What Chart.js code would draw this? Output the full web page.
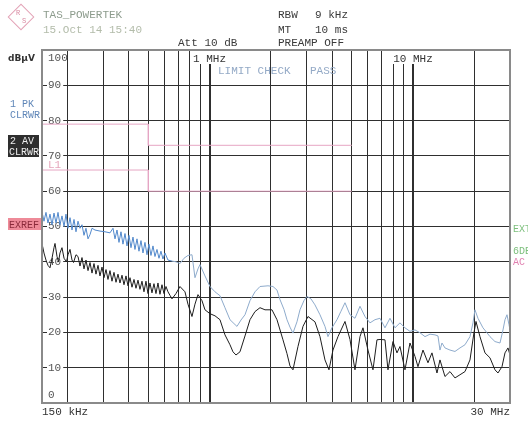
<!DOCTYPE html>
<html>
<head>
<meta charset="utf-8">
<script src="https://cdn.jsdelivr.net/npm/chart.js@4.4.1/dist/chart.umd.min.js"></script>
<style>
  html, body { margin: 0; padding: 0; background: #fff; }
  #wrap { width: 528px; height: 422px; }
</style>
</head>
<body>
<div id="wrap"><canvas id="emiChart" width="528" height="422"></canvas></div>
<script>
// Frequencies in kHz, levels in dBuV
const freqPk = [151, 153.4, 156.9, 160.5, 164.2, 168, 171.8, 175.8, 179.8, 183.9, 188.1, 192.5, 196.8, 201.3, 206, 210.7, 215.5, 220.4, 225.5, 230.6,
  235.9, 241.3, 246.8, 252.5, 258.3, 264.2, 273.3, 289.2, 306.1, 323.9, 335.1, 342.8, 350.6, 358.6, 366.8, 375.2, 383.8, 392.6, 401.6, 410.8,
  420.2, 429.8, 439.7, 449.7, 460, 470.5, 481.3, 492.3, 503.6, 515.1, 526.9, 539, 551.3, 563.9, 576.8, 590, 603.5, 624.4, 653.3, 683.6,
  715.2, 748.4, 783.1, 819.4, 847.7, 876.9, 897, 949.3, 1004.6, 1063, 1125, 1190.6, 1259.9, 1318.3, 1363.8, 1427, 1493.2, 1580.2, 1672.3, 1769.7,
  1937.3, 2050, 2144.9, 2218.9, 2321.7, 2402, 2484.9, 2570.7, 2689.8, 2782.7, 2911.5, 3012.2, 3151.7, 3297.6, 3489.8, 3693.3, 3820.8, 3997.8, 4230.6, 4426.8,
  4632.2, 4901.9, 5187.3, 5489.6, 5808.9, 6147, 6504.8, 6883.8, 7285, 7709, 8157.8, 8632.4, 9135.6, 9668.4, 10232, 10828, 11459, 12126, 12831, 13275,
  13579, 13890, 14370, 15206, 16091, 17028, 18020, 19069, 19727, 20178, 20875, 22091, 23117, 23915, 25307, 26786, 27712, 28347, 28998, 29662, 30000];
const pkLevel = [53.4, 51.5, 54, 51, 53.5, 50.5, 53.8, 51, 54, 50.5, 53, 50, 53.5, 49.5, 52.5, 49, 52, 48.5, 51.5, 49.5,
  50.5, 47.5, 49.5, 46.5, 47.7, 49.5, 49, 48.7, 48.5, 48.2, 49.5, 46.5, 49, 45.5, 48.5, 45, 48, 44.5, 47.5, 44,
  47, 43.5, 46.5, 43, 46, 42.5, 45.5, 42, 45, 41.8, 44.5, 41.5, 43.5, 41, 43, 40.8, 42.5, 40.5, 40.2, 40,
  39.5, 41, 41.8, 42, 35.5, 38, 39.2, 36, 33, 31.5, 30.4, 27, 23.6, 22.5, 21.7, 23.5, 25, 29, 31.5, 33,
  33.2, 33, 32, 29.3, 26.5, 23.6, 21.5, 19.8, 23, 26.4, 29, 30.2, 29.5, 27.8, 25, 21.7, 18.8, 21.3, 23.6, 26,
  28.4, 25, 24, 27.4, 24.5, 22.7, 23.6, 24, 21.3, 24, 21.3, 22.7, 21.3, 20.3, 20.7, 19.9, 18.8, 19.5, 19.3, 19,
  15, 17, 15.6, 15, 14.6, 15.6, 16.5, 18.8, 22.7, 26.4, 24, 21.3, 19.9, 18.8, 17.4, 17, 20.7, 23.6, 25, 22.2, 20.7];

const freqAv = [151, 153.4, 156.9, 160.5, 164.2, 168, 171.8, 173.8, 177.8, 180.8, 183.9, 188.1, 192.5, 198, 201.3, 206, 210.7, 214.3, 220.4, 225.5,
  230.6, 235.9, 241.3, 246.8, 252.5, 258.3, 264.2, 270.2, 276.4, 282.8, 289.2, 295.9, 302.6, 309.6, 316.6, 323.9, 331.3, 338.9, 346.7, 354.6,
  362.7, 371, 379.5, 388.2, 397.1, 406.2, 415.5, 425, 434.7, 444.7, 454.8, 465.2, 475.9, 486.8, 497.9, 509.3, 521, 532.9, 545.1, 557.6,
  570.3, 583.4, 596.8, 610.4, 624.4, 638.7, 653.3, 683.6, 715.2, 756.9, 783.1, 819.4, 847.7, 876.9, 917.6, 949.3, 1004.6, 1063, 1125, 1190.6,
  1259.9, 1303.4, 1348.5, 1410.9, 1493.2, 1580.2, 1672.3, 1769.7, 1872.9, 2027, 2144.9, 2295.6, 2402, 2484.9, 2570.7, 2720.4, 2878.8, 3046.5, 3297.6, 3489.8,
  3693.3, 3864.3, 4043.3, 4278.8, 4632.2, 4901.9, 5187.3, 5489.6, 5679, 6009.5, 6359.3, 6654.2, 6883.8, 7285, 7536.5, 7975, 8344.4, 8632.4, 9135.6, 9668.4,
  10232, 10585, 11202, 11854, 12403, 13125, 13579, 14370, 15206, 16091, 17028, 18020, 19069, 19951, 20408, 21354, 22598, 23915, 25307, 26184,
  27401, 28347, 29328, 30000];
const avLevel = [44.4, 42.5, 40.5, 39, 38.3, 41, 44, 45.2, 41.5, 40, 42.5, 44, 41, 40, 42, 43.5, 40.5, 39.8, 42, 41.5,
  38.8, 41.2, 38, 40.5, 37.5, 39.8, 36.8, 39.5, 36.5, 39, 36, 38.5, 35.5, 37.8, 35, 37.5, 34.5, 37, 34.2, 36.5,
  34, 36.2, 33.5, 36, 33.2, 35.5, 32.8, 35, 32.5, 34.8, 32.2, 34.5, 31.5, 34.5, 31, 34, 31.2, 33.8, 31, 34,
  30.8, 33.5, 31, 33, 31.5, 30.5, 29.5, 31, 33, 31.5, 28, 24.5, 28, 30.7, 29, 26.4, 25.3, 24.7, 23.6, 19.3,
  16.5, 14.5, 13.6, 14.5, 19, 23.6, 25.9, 27, 26.4, 26.4, 23.6, 17.9, 14, 10.5, 9.4, 16, 21.7, 24.5, 23, 18.8,
  12.2, 9.4, 15, 18.8, 23.1, 18, 9.4, 18.8, 21.3, 15, 9.4, 17.9, 18, 17.9, 9.4, 17.4, 14.2, 16, 9.4, 17,
  13.2, 10.3, 15, 11.4, 14.2, 8.5, 12.2, 7.5, 8.9, 7.1, 8, 8.9, 12.2, 19.9, 23.1, 18.8, 14.2, 12.8, 9.4, 8.5,
  10.3, 14.2, 15.6, 13.6];

// Limit lines (step at 500 kHz, drawn up to 5 MHz)
const limitFreq = [150, 500, 500, 5000];
const limitQp = [79, 79, 73, 73];
const limitAv = [66, 66, 60, 60];

// Grid / labels
const gridFreqs = [200, 300, 400, 500, 600, 700, 800, 900, 1000, 2000, 3000, 4000, 5000, 6000, 7000, 8000, 9000, 10000, 20000];
const levelTicks = [0, 10, 20, 30, 40, 50, 60, 70, 80, 90, 100];
const freqLabels = [{ f: 1000, text: '1 MHz' }, { f: 10000, text: '10 MHz' }];

const toPoints = (xs, ys) => xs.map((x, i) => ({ x: x, y: ys[i] }));
const MONO = '"Liberation Mono", "DejaVu Sans Mono", monospace';

const decorPlugin = {
  id: 'decor',
  beforeDraw(chart) {
    const c = chart.ctx;
    c.save();
    c.fillStyle = '#fff';
    c.fillRect(0, 0, chart.width, chart.height);
    c.restore();
  },
  // grid labels go under the traces
  beforeDatasetsDraw(chart) {
    const c = chart.ctx;
    const a = chart.chartArea;
    const xs = chart.scales.x;
    const ys = chart.scales.y;
    c.save();
    c.font = '11px ' + MONO;
    c.textBaseline = 'middle';
    levelTicks.forEach(v => {
      let y = ys.getPixelForValue(v);
      const txt = String(v);
      if (v === 100) y += 8;
      if (v === 0) y -= 8;
      const w = c.measureText(txt).width;
      if (v !== 100 && v !== 0) {
        c.fillStyle = '#fff';
        c.fillRect(a.left + 5, y - 5, w + 3, 10);
      }
      c.fillStyle = '#555';
      c.fillText(txt, a.left + 6, y);
    });

    c.fillStyle = '#e6a6bc';
    c.fillText('L1', a.left + 6, ys.getPixelForValue(67.5));

    c.textAlign = 'center';
    freqLabels.forEach(l => {
      const x = xs.getPixelForValue(l.f);
      const w = c.measureText(l.text).width;
      c.fillStyle = '#fff';
      c.fillRect(x - w / 2 - 2, a.top, w + 4, 14);
      c.fillStyle = '#333';
      c.fillText(l.text, x, a.top + 9);
    });

    c.textAlign = 'left';
    c.fillStyle = '#93a9c6';
    c.fillText('LIMIT CHECK', 218, 71);
    c.fillText('PASS', 310, 71);
    c.restore();
  },
  afterDraw(chart) {
    const c = chart.ctx;
    const a = chart.chartArea;
    c.save();

    // frame
    c.strokeStyle = '#8a8a8a';
    c.lineWidth = 2;
    c.strokeRect(a.left, a.top, a.right - a.left, a.bottom - a.top);

    // logo
    c.save();
    c.translate(21, 17);
    c.rotate(Math.PI / 4);
    c.strokeStyle = '#e3a2b6';
    c.lineWidth = 1;
    c.strokeRect(-9, -9, 18, 18);
    c.restore();
    c.fillStyle = '#d98aa2';
    c.font = '7px ' + MONO;
    c.textAlign = 'center';
    c.textBaseline = 'middle';
    c.fillText('R', 18, 13);
    c.fillText('S', 24, 21);

    // header
    c.textAlign = 'left';
    c.textBaseline = 'alphabetic';
    c.font = '11px ' + MONO;
    c.fillStyle = '#8d9c8d';
    c.fillText('TAS_POWERTEK', 43, 18);
    c.fillStyle = '#b3bcaa';
    c.fillText('15.Oct 14 15:40', 43, 33);
    c.fillStyle = '#3a3a3a';
    c.fillText('RBW', 278, 18);
    c.fillText('9 kHz', 315, 18);
    c.fillText('MT', 278, 33);
    c.fillText('10 ms', 315, 33);
    c.fillText('Att 10 dB', 178, 46);
    c.fillText('PREAMP OFF', 278, 46);

    // left side labels
    c.font = 'bold 9px "DejaVu Sans", sans-serif';
    c.fillStyle = '#333';
    c.fillText('dBµV', 8, 61);
    c.font = '10px ' + MONO;
    c.fillStyle = '#5f86b8';
    c.fillText('1 PK', 10, 107);
    c.fillText('CLRWR', 10, 118);
    c.fillStyle = '#2e2e2e';
    c.fillRect(8, 135, 31, 11);
    c.fillRect(8, 146, 31, 11);
    c.fillStyle = '#eee';
    c.fillText('2 AV', 10, 144);
    c.fillText('CLRWR', 9, 155);
    c.fillStyle = '#ee8a98';
    c.fillRect(8, 218, 33, 12);
    c.fillStyle = '#8a2a3a';
    c.fillText('EXREF', 9, 228);

    // right side labels
    c.fillStyle = '#7cbf7c';
    c.fillText('EXT', 513, 232);
    c.fillText('6DB', 513, 254);
    c.fillStyle = '#e080b0';
    c.fillText('AC', 513, 265);

    // bottom axis labels
    c.font = '11px ' + MONO;
    c.fillStyle = '#333';
    c.fillText('150 kHz', 42, 415);
    c.textAlign = 'right';
    c.fillText('30 MHz', 510, 415);
    c.restore();
  }
};

new Chart(document.getElementById('emiChart'), {
  type: 'line',
  data: {
    datasets: [
      {
        label: '2 AV',
        data: toPoints(freqAv, avLevel),
        borderColor: '#1e1e1e',
        borderWidth: 1,
        pointRadius: 0,
        tension: 0,
        order: 0
      },
      {
        label: '1 PK',
        data: toPoints(freqPk, pkLevel),
        borderColor: '#8eabcc',
        borderWidth: 1,
        pointRadius: 0,
        tension: 0,
        segment: {
          borderColor: ctx => ctx.p0.parsed.x < 640 ? '#5289cc' : '#8eabcc'
        },
        order: 1
      },
      {
        label: 'QP limit',
        data: toPoints(limitFreq, limitQp),
        borderColor: '#e6a6c4',
        borderWidth: 1,
        pointRadius: 0,
        order: 2
      },
      {
        label: 'AV limit',
        data: toPoints(limitFreq, limitAv),
        borderColor: '#e6a6c4',
        borderWidth: 1,
        pointRadius: 0,
        order: 2
      }
    ]
  },
  options: {
    responsive: false,
    animation: false,
    devicePixelRatio: 1,
    layout: { padding: { left: 42, right: 18, top: 50, bottom: 19 } },
    plugins: { legend: { display: false }, tooltip: { enabled: false } },
    scales: {
      x: {
        type: 'logarithmic',
        min: 150,
        max: 30000,
        afterBuildTicks: s => { s.ticks = gridFreqs.map(v => ({ value: v })); },
        afterFit: s => { s.height = 0; },
        ticks: { display: false },
        border: { display: false },
        grid: {
          drawTicks: false,
          color: '#2f2f2f',
          lineWidth: ctx => (ctx.tick && (ctx.tick.value === 1000 || ctx.tick.value === 10000)) ? 2 : 1
        }
      },
      y: {
        min: 0,
        max: 100,
        afterBuildTicks: s => { s.ticks = levelTicks.map(v => ({ value: v })); },
        afterFit: s => { s.width = 0; },
        ticks: { display: false },
        border: { display: false },
        grid: { drawTicks: false, color: '#2f2f2f', lineWidth: 1 }
      }
    }
  },
  plugins: [decorPlugin]
});
</script>
</body>
</html>
